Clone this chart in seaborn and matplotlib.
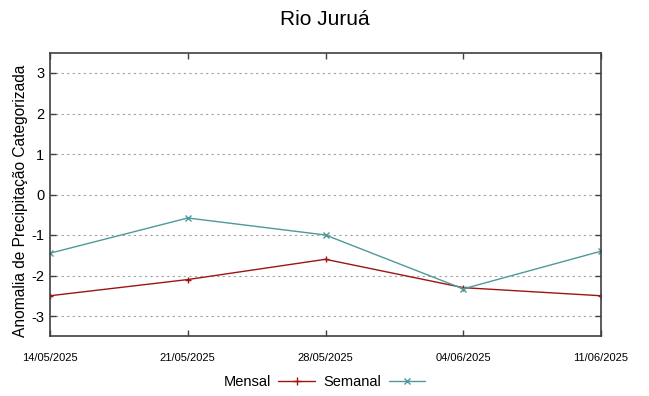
import matplotlib
matplotlib.use("Agg")
import matplotlib.pyplot as plt
import seaborn as sns
import pandas as pd

dates = ["14/05/2025", "21/05/2025", "28/05/2025", "04/06/2025", "11/06/2025"]
mensal = [-2.5, -2.1, -1.6, -2.3, -2.5]
semanal = [-1.45, -0.58, -1.0, -2.33, -1.4]
yticks = [-3, -2, -1, 0, 1, 2, 3]

sns.set_theme(style="white")
plt.rcParams['font.family'] = ['Liberation Sans', 'DejaVu Sans']
plt.rcParams['text.color'] = 'black'
plt.rcParams['axes.labelcolor'] = 'black'

df = pd.DataFrame({
    "date": dates * 2,
    "x": list(range(len(dates))) * 2,
    "value": mensal + semanal,
    "serie": ["Mensal"] * len(dates) + ["Semanal"] * len(dates),
})

fig = plt.figure(figsize=(6.49, 3.96), dpi=100)
ax = fig.add_axes([50/649, 1-336.25/396, (601-50)/649, (336.25-52.75)/396])

palette = {"Mensal": "#9e1414", "Semanal": "#4e9a9a"}
mk = {"Mensal": "+", "Semanal": "x"}
for name in ["Mensal", "Semanal"]:
    sub = df[df["serie"] == name]
    sns.lineplot(data=sub, x="x", y="value", color=palette[name], marker=mk[name],
                 markeredgecolor=palette[name], markersize=5, markeredgewidth=1.0,
                 linewidth=1.0, ax=ax, legend=False)

ax.set_xlim(0, len(dates) - 1)
ax.set_ylim(-3.5, 3.5)
ax.set_xticks(range(len(dates)))
ax.set_xticklabels(dates, fontsize=8)
ax.set_yticks(yticks)
ax.set_yticklabels([str(t) for t in yticks], fontsize=10.5)
ax.tick_params(axis='both', direction='in', length=4, width=1, color='#404040',
               top=True, right=True, bottom=True, left=True, labelcolor='black')
ax.tick_params(axis='x', pad=12)
ax.tick_params(axis='y', pad=4)
for y in yticks:
    ax.axhline(y, color='#a0a0a0', linestyle=(0, (2, 3)), linewidth=0.8, zorder=0)
for s in ax.spines.values():
    s.set_color('#404040')
    s.set_linewidth(1.2)
    s.set_visible(True)
ax.set_xlabel("")
ax.set_ylabel("Anomalia de Precipitação Categorizada", fontsize=11.2, color='black')
ax.yaxis.set_label_coords(-0.04, 0.477)
fig.suptitle("Rio Juruá", fontsize=15, y=0.975, color='black')

from matplotlib.lines import Line2D
handles = [Line2D([], [], color=palette["Mensal"], marker="+", linewidth=1.0, markersize=6),
           Line2D([], [], color=palette["Semanal"], marker="x", linewidth=1.0, markersize=5)]
fig.legend(handles, ["Mensal", "Semanal"], loc="center", bbox_to_anchor=(0.5, 1-382/396),
           ncol=2, frameon=False, markerfirst=False, fontsize=10.5, labelcolor='black',
           handlelength=2.5, columnspacing=0.6, handletextpad=0.5)

fig.savefig("out.png", dpi=100)
